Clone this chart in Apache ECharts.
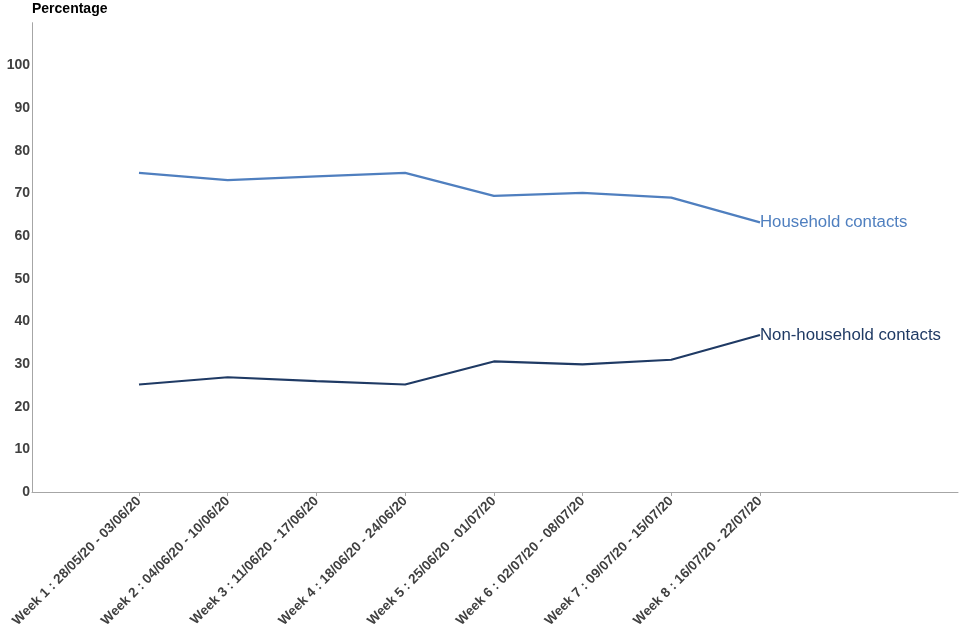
<!DOCTYPE html>
<html>
<head>
<meta charset="utf-8">
<script src="https://cdn.jsdelivr.net/npm/echarts@6/dist/echarts.min.js"></script>
<style>html,body{margin:0;padding:0;background:#fff}#c{width:960px;height:640px}</style>
</head>
<body>
<div id="c"></div>
<script>
var categories = [
  "Week 1 : 28/05/20 - 03/06/20",
  "Week 2 : 04/06/20 - 10/06/20",
  "Week 3 : 11/06/20 - 17/06/20",
  "Week 4 : 18/06/20 - 24/06/20",
  "Week 5 : 25/06/20 - 01/07/20",
  "Week 6 : 02/07/20 - 08/07/20",
  "Week 7 : 09/07/20 - 15/07/20",
  "Week 8 : 16/07/20 - 22/07/20"
];
var household = [74.8, 73.1, 74.0, 74.8, 69.4, 70.1, 69.0, 63.2];
var nonHousehold = [25.2, 26.9, 26.0, 25.2, 30.6, 29.9, 31.0, 36.8];
var yTicks = [0, 10, 20, 30, 40, 50, 60, 70, 80, 90, 100];

var positions = categories.map(function (c, i) { return i + 1; });
function pts(arr) { return arr.map(function (v, i) { return [positions[i], v]; }); }

var font = "Liberation Sans, Arial, sans-serif";
var chart = echarts.init(document.getElementById('c'), null, { renderer: 'canvas' });
chart.setOption({
  animation: false,
  backgroundColor: '#ffffff',
  title: {
    text: 'Percentage', left: 32, top: 2, padding: 0,
    textStyle: { fontFamily: font, fontSize: 14, fontWeight: 'bold', color: '#000000' }
  },
  grid: { left: 32, right: 2, top: 22.7, bottom: 148, containLabel: false },
  xAxis: {
    type: 'value', min: -0.206, max: 10.232,
    splitLine: { show: false },
    axisLine: { show: true, onZero: false, lineStyle: { color: '#a6a6a6', width: 1 } },
    axisTick: { show: true, customValues: positions, length: 4, lineStyle: { color: '#a6a6a6' } },
    axisLabel: {
      customValues: positions, rotate: 45, margin: 7,
      fontFamily: font, fontSize: 13.5, fontWeight: 'bold', color: '#404040',
      formatter: function (v) { var i = Math.round(v) - 1; return categories[i] || ''; }
    }
  },
  yAxis: {
    type: 'value', min: 0, max: 110, interval: 10,
    splitLine: { show: false },
    axisLine: { show: true, onZero: false, lineStyle: { color: '#a6a6a6', width: 1 } },
    axisTick: { show: false },
    axisLabel: {
      customValues: yTicks, margin: 2,
      fontFamily: font, fontSize: 14, fontWeight: 'bold', color: '#404040'
    }
  },
  series: [
    {
      name: 'Household contacts', type: 'line', data: pts(household),
      symbol: 'none', lineStyle: { color: '#4f7fbf', width: 2.2 }, itemStyle: { color: '#4f7fbf' },
      endLabel: { show: true, formatter: '{a}', distance: 0, fontFamily: font, fontSize: 16.8, color: '#4f7fbf' }
    },
    {
      name: 'Non-household contacts', type: 'line', data: pts(nonHousehold),
      symbol: 'none', lineStyle: { color: '#1f3a64', width: 2.2 }, itemStyle: { color: '#1f3a64' },
      endLabel: { show: true, formatter: '{a}', distance: 0, fontFamily: font, fontSize: 16.8, color: '#1f3a64' }
    }
  ]
});
</script>
</body>
</html>
